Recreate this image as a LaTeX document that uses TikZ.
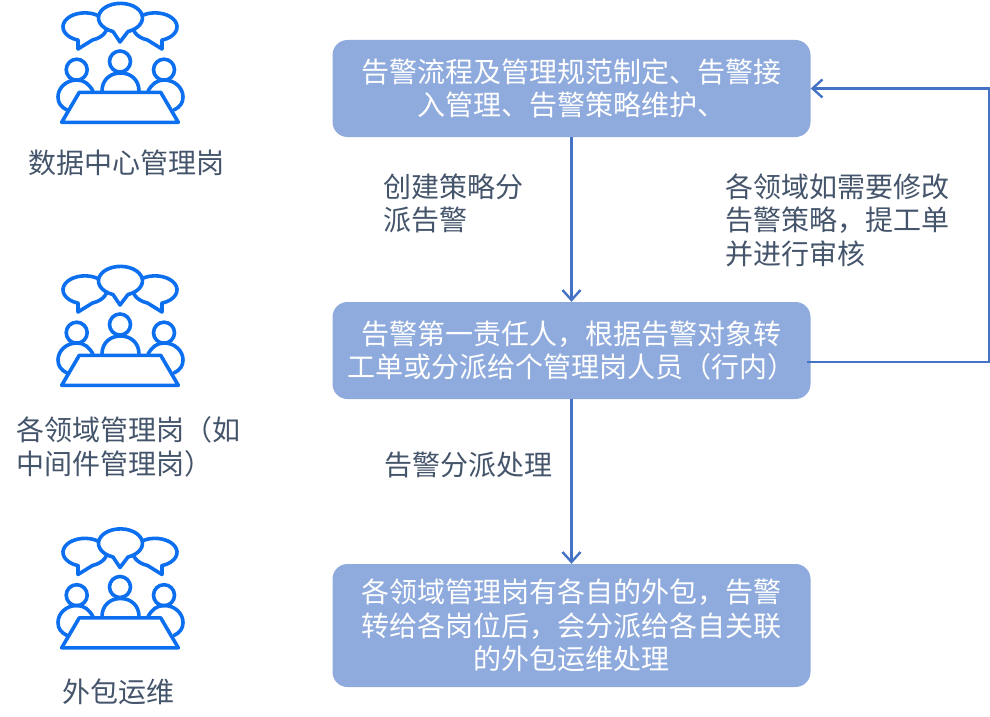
\documentclass[tikz,border=0pt]{standalone}
\usepackage{fontspec}
\setmainfont{Noto Sans CJK SC}
\usetikzlibrary{arrows.meta}
\definecolor{boxfill}{HTML}{8FAADC}
\definecolor{linkblue}{HTML}{4472C4}
\definecolor{iconblue}{HTML}{0B6FEF}
\definecolor{textslate}{HTML}{44546A}
\begin{document}
\begin{tikzpicture}[x=1pt,y=-1pt]

\tikzstyle{block} = [
	fill=boxfill, rectangle, rounded corners=15pt, text=white, align=center, inner sep=0pt,
	minimum width=478pt, font=\fontsize{28}{33.5}\selectfont ];
\tikzstyle{plain} = [
	text=textslate, align=left, anchor=west, inner sep=0pt,
	font=\fontsize{28}{33.5}\selectfont ];
\tikzstyle{link} = [
	draw=linkblue, line width=2.4pt, -{Straight Barb[length=10pt,width=18pt,line width=2.4pt]} ];
\tikzstyle{icon} = [
	draw=iconblue, fill=white, line width=3.6pt, line join=round, line cap=round ];
\tikzset{meeting/.pic={
	\draw[icon] (78,41) -- (78,50) -- (92.5,41) arc[start angle=70,end angle=-251,x radius=22,y radius=14] -- cycle;
	\draw[icon] (162,41) -- (162,50) -- (147.5,41) arc[start angle=110,end angle=431,x radius=22,y radius=14] -- cycle;
	\draw[icon] (113,32.5) -- (120,43) -- (128,32.5) arc[start angle=70,end angle=-250,x radius=22,y radius=14.5] -- cycle;
	\draw[icon] (120,62.5) circle[radius=10.5];
	\draw[icon] (76.7,70.7) circle[radius=10.5];
	\draw[icon] (164,70.7) circle[radius=10.5];
	\draw[icon,fill=none] (102,92) .. controls (102,81) and (110,74) .. (120.5,74) .. controls (131,74) and (139,81) .. (139,92);
	\draw[icon,fill=none] (93,92) .. controls (89,85) and (84,81) .. (77,81) .. controls (66,81) and (58,89) .. (58,98) .. controls (58,104) and (61,108) .. (67,111);
	\draw[icon,fill=none] (148,92) .. controls (152,85) and (157,81) .. (164,81) .. controls (175,81) and (183,89) .. (183,98) .. controls (183,104) and (180,108) .. (174,111);
	\draw[icon,fill=none] (79.3,93.3) -- (160.7,93.3) -- (178.3,123.3) -- (61.7,123.3) -- cycle;
}}
\useasboundingbox (0,0) rectangle (990,717);

\pic (crowd0) at (0,-1) {meeting};
\pic (crowd1) at (0,262) {meeting};
\pic (crowd2) at (0,524.5) {meeting};

\node[plain,anchor=center] (role0) at (126.5,163) {数据中心管理岗};
\node[plain] (role1) at (16.5,447) {各领域管理岗（如\\中间件管理岗）};
\node[plain,anchor=center] (role2) at (118,692) {外包运维};

\node[block,minimum height=97pt] (b0) at (571.5,88.5) {告警流程及管理规范制定、告警接\\入管理、告警策略维护、};
\node[block,minimum height=97pt] (b1) at (571.5,350.5) {告警第一责任人，根据告警对象转\\工单或分派给个管理岗人员（行内）};
\node[block,minimum height=123pt] (b2) at (571.5,625.5) {各领域管理岗有各自的外包，告警\\转给各岗位后，会分派给各自关联\\的外包运维处理};

\node[plain] (l0) at (383,203.5) {创建策略分\\派告警};
\node[plain] (l1) at (384,465) {告警分派处理};
\node[plain] (l2) at (725.5,220) {各领域如需要修改\\告警策略，提工单\\并进行审核};

\draw[link] (b0) -- (b1);
\draw[link] (b1) -- (b2);

\coordinate (back0) at (807,362);
\coordinate (back1) at (989,362);
\draw[link] (back0) -- (back1) |- (b0.east);

\end{tikzpicture}
\end{document}
